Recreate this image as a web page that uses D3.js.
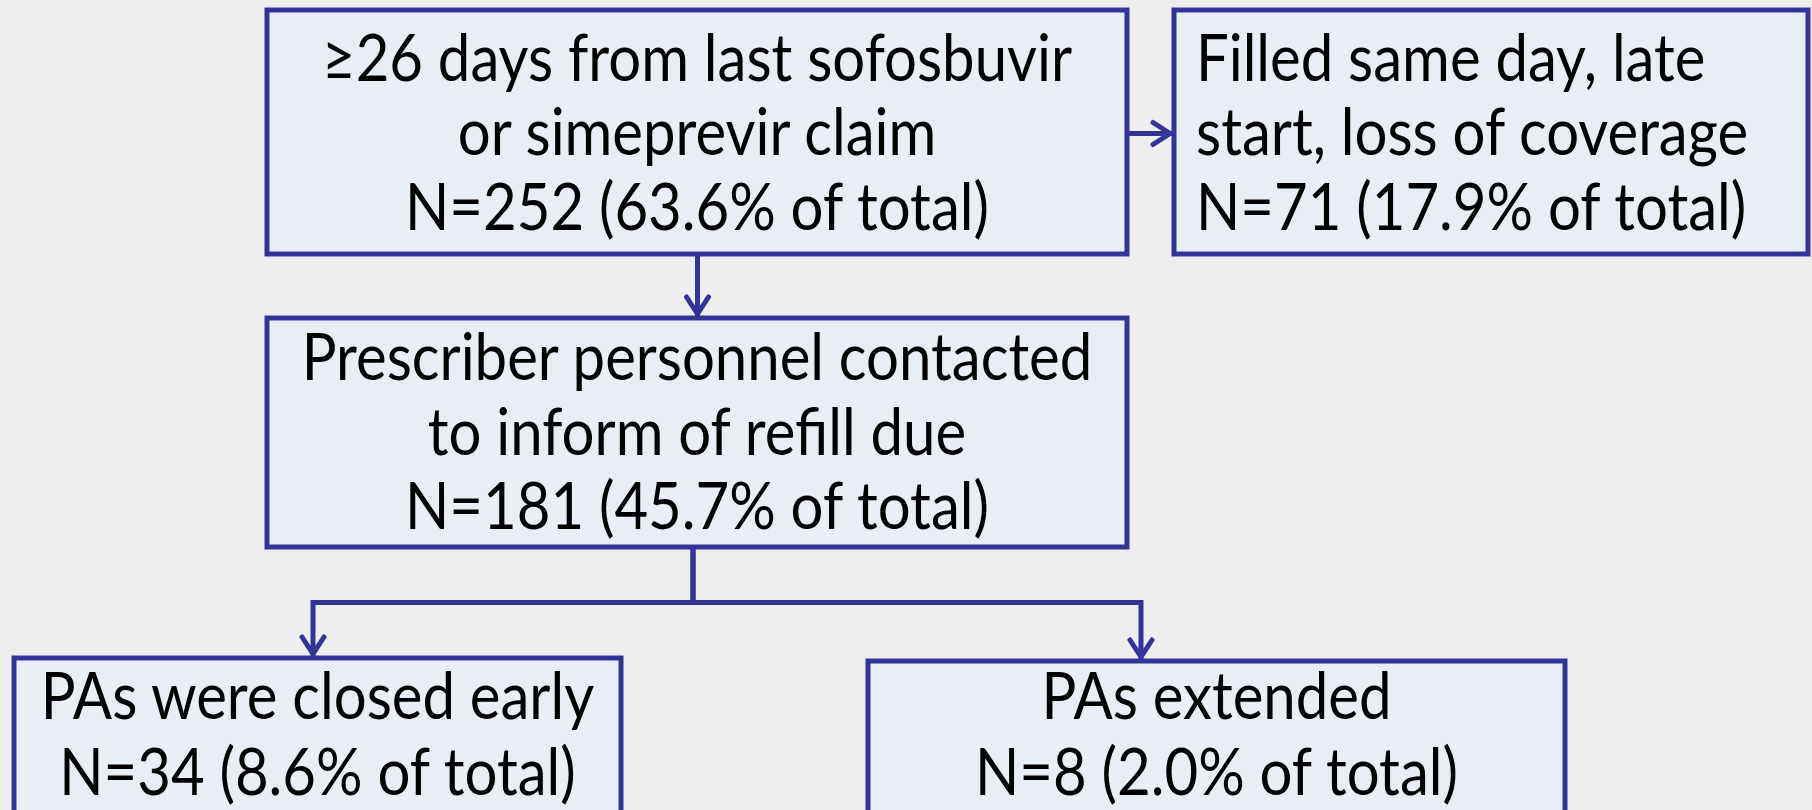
<!DOCTYPE html>
<html><head><meta charset="utf-8">
<script src="https://cdn.jsdelivr.net/npm/d3@7"></script>
<style>
html,body{margin:0;padding:0;background:#eeeeee;}
svg{display:block;}
</style></head>
<body>
<script>
// ---- data ----
const boxIds = ["start", "excluded", "contacted", "closed", "extended"];
const boxLabels = [
  ["≥26 days from last sofosbuvir", "or simeprevir claim"],
  ["Filled same day, late", "start, loss of coverage"],
  ["Prescriber personnel contacted", "to inform of refill due"],
  ["PAs were closed early"],
  ["PAs extended"]
];
const counts = [252, 71, 181, 34, 8];
const percents = [63.6, 17.9, 45.7, 8.6, 2.0];
const links = [["start", "excluded"], ["start", "contacted"], ["contacted", "closed"], ["contacted", "extended"]];

// ---- layout ----
const W = 1812, H = 810;
const layout = {
  start:     {x0: 267, x1: 1127, y0: 10,  y1: 254, align: "middle", baselines: [81, 155, 230]},
  excluded:  {x0: 1174, x1: 1808, y0: 10, y1: 254, align: "start", tx: 1196, baselines: [81, 155, 230]},
  contacted: {x0: 267, x1: 1127, y0: 318, y1: 547, align: "middle", baselines: [380, 455, 529]},
  closed:    {x0: 14,  x1: 621, y0: 658,  y1: 840, align: "middle", baselines: [719, 795]},
  extended:  {x0: 868, x1: 1565, y0: 661, y1: 840, align: "middle", baselines: [719, 795]}
};
const stroke = "#343398", fill = "#e9edf4";
const SW = 5;

const svg = d3.select("body").append("svg").attr("width", W).attr("height", H);
svg.append("rect").attr("width", W).attr("height", H).attr("fill", "#eeeeee");

const defs = svg.append("defs");
defs.append("marker").attr("id", "arr")
  .attr("markerUnits", "userSpaceOnUse")
  .attr("viewBox", "-26 -16 30 32").attr("refX", 0).attr("refY", 0)
  .attr("markerWidth", 30).attr("markerHeight", 32).attr("orient", "auto")
  .append("path").attr("d", "M-19,-11 L-2,0 L-19,11")
  .attr("fill", "none").attr("stroke", stroke).attr("stroke-width", SW)
  .attr("stroke-linejoin", "miter").attr("stroke-linecap", "round");

const nodes = boxIds.map((id, i) => ({
  id, lines: [...boxLabels[i], `N=${counts[i]} (${percents[i].toFixed(1)}% of total)`], ...layout[id]
}));
const byId = Object.fromEntries(nodes.map(n => [n.id, n]));

// connectors
const line = d3.line();
function linkPath([a, b]) {
  const s = byId[a], t = byId[b];
  if (t.x0 > s.x1) { // horizontal
    const y = 133.5;
    return line([[s.x1, y], [t.x0 - 2, y]]);
  }
  if (a === "start") {
    const x = 697.5;
    return line([[x, s.y1], [x, t.y0 - 2]]);
  }
  const xs = 693, ym = 602.5;
  const xt = t.id === "closed" ? 313 : 1141;
  return line([[xs, s.y1], [xs, ym], [xt, ym], [xt, t.y0 - 2]]);
}
svg.append("g").selectAll("path").data(links).join("path")
  .attr("d", linkPath).attr("fill", "none").attr("stroke", stroke)
  .attr("stroke-width", SW).attr("marker-end", "url(#arr)");

const g = svg.append("g").selectAll("g").data(nodes).join("g");
g.append("rect")
  .attr("x", d => d.x0).attr("y", d => d.y0)
  .attr("width", d => d.x1 - d.x0).attr("height", d => d.y1 - d.y0)
  .attr("fill", fill).attr("stroke", stroke).attr("stroke-width", SW);

g.each(function(d) {
  const tx = d.align === "middle" ? (d.x0 + d.x1) / 2 : d.tx;
  d3.select(this).selectAll("text").data(d.lines.map((t, i) => ({t, y: d.baselines[i]}))).join("text")
    .attr("transform", e => `translate(${tx},${e.y}) scale(0.88,1)`)
    .attr("text-anchor", d.align)
    .attr("font-family", "Lato, 'Open Sans', sans-serif")
    .attr("font-size", 66)
    .attr("fill", "#000")
    .text(e => e.t);
});
</script>
</body></html>
